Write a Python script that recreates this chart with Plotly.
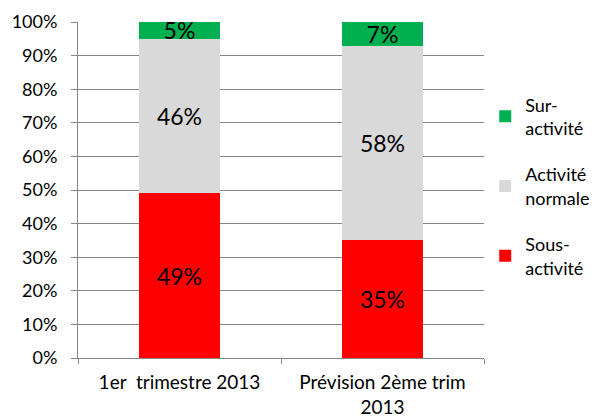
import plotly.graph_objects as go

categories = ["1er  trimestre 2013", "Prévision 2ème trim<br>2013"]
sous_activite = [49, 35]
activite_normale = [46, 58]
sur_activite = [5, 7]
y_ticks = [0, 10, 20, 30, 40, 50, 60, 70, 80, 90, 100]
y_tick_labels = [f"{v}%" for v in y_ticks]

FONT = "Lato, Open Sans, sans-serif"

series = [
    ("Sous-<br>activité", sous_activite, "#FF0000", 3),
    ("Activité<br>normale", activite_normale, "#D9D9D9", 2),
    ("Sur-<br>activité", sur_activite, "#00B050", 1),
]

fig = go.Figure()
for i, (name, vals, col, rank) in enumerate(series):
    fig.add_trace(go.Bar(
        x=categories, y=vals, name=name, legendgroup=f"g{i}", legendrank=rank,
        marker=dict(color=col, line=dict(width=0)),
        text=[f"{v}%" for v in vals], textposition="inside", insidetextanchor="middle",
        textfont=dict(size=23, color="#000000", family=FONT), width=0.4,
        constraintext="none", cliponaxis=False,
    ))

fig.update_layout(
    barmode="stack",
    width=596, height=418,
    margin=dict(l=78, r=112, t=22, b=60, autoexpand=False),
    paper_bgcolor="white", plot_bgcolor="white",
    font=dict(family=FONT, size=18, color="#000000"),
    uniformtext=dict(minsize=23, mode="show"),
    legend=dict(x=1.003, y=0.511, xanchor="left", yanchor="middle",
                font=dict(size=18, family=FONT), tracegroupgap=20,
                traceorder="grouped", itemwidth=30),
    showlegend=True,
)
fig.update_yaxes(
    range=[0, 100], tickvals=y_ticks, ticktext=y_tick_labels,
    showgrid=True, gridcolor="#868686", gridwidth=1,
    showline=True, linecolor="#868686", linewidth=1,
    ticks="outside", ticklen=6, tickcolor="#868686", ticklabelstandoff=10,
    zeroline=False, tickfont=dict(size=18, family=FONT), automargin=False,
)
fig.update_xaxes(
    showline=True, linecolor="#868686", linewidth=1,
    ticks="outside", tickson="boundaries", ticklen=5, tickcolor="#868686",
    ticklabelstandoff=7,
    tickfont=dict(size=19, family=FONT), automargin=False,
)
fig.write_html("out.html", config={"displayModeBar": False},
               post_script="document.body.style.margin='0';")
